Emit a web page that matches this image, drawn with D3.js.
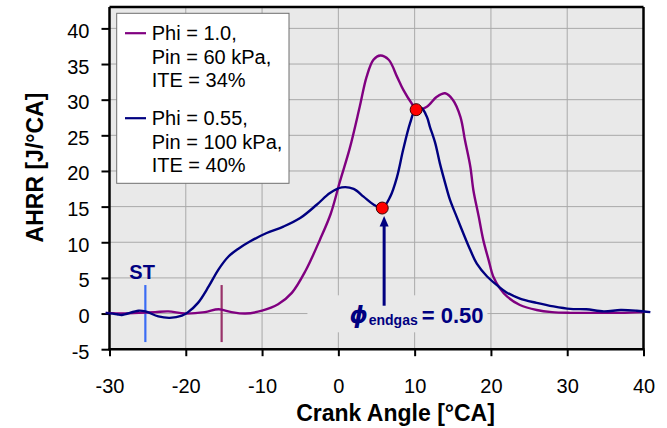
<!DOCTYPE html>
<html>
<head>
<meta charset="utf-8">
<script src="https://cdn.jsdelivr.net/npm/d3@7/dist/d3.min.js"></script>
<style>
  html, body { margin: 0; padding: 0; background: #fff; }
  svg { display: block; font-family: "Liberation Sans", Arial, sans-serif; }
</style>
</head>
<body>
<svg id="chart" width="667" height="428"></svg>
<script>
// Apparent heat release rate vs crank angle, two operating points
const crankRich = [-30.5, -28, -26.2, -24, -22.3, -20.1, -17.5, -15.7, -14.0, -12.2, -10.0, -7.9, -6.1, -4.3,
  -2.4, -1.0, 0.2, 1.5, 2.8, 3.7, 4.6, 5.5, 6.6, 7.7, 8.5, 9.6, 10.3, 11.6, 12.9, 14.0, 15.0, 16.0,
  16.6, 17.3, 17.7, 18.4, 19.0, 19.7, 20.3, 21.2, 22.1, 23.8, 26.0, 28.0, 30.4, 35.0, 37.0, 40.0];
const ahrrRich = [0.1, 0.0, 0.1, 0.2, 0.3, 0.0, 0.2, 0.6, 0.2, 0.0, 0.4, 1.3, 2.9, 6.0,
  10.4, 14.0, 18.5, 23.2, 29.0, 33.2, 35.6, 36.2, 35.6, 33.2, 31.4, 29.5, 28.6, 29.0, 30.4, 30.9, 30.0, 27.6,
  24.3, 20.6, 17.3, 13.6, 10.3, 7.5, 5.2, 3.5, 2.4, 1.2, 0.5, 0.2, 0.1, 0.1, 0.1, 0.2];

const crankLean = [-30.5, -29.0, -28.4, -26.2, -25.3, -23.6, -22.1, -20.5, -19.7, -18.4, -17.0, -15.7, -14.4,
  -13.1, -11.6, -9.4, -7.2, -5.0, -2.8, -1.1, 0.45, 2.0, 3.3, 4.6, 5.75, 6.8, 7.7, 8.5, 9.4, 10.1, 10.9, 11.6,
  12.0, 12.7, 13.3, 14.0, 14.65, 15.5, 16.4, 17.3, 18.15, 19.5, 21.0, 22.0, 23.8, 26.0, 28.2, 30.4, 32.5, 34.8,
  37.0, 39.1, 40.9];
const ahrrLean = [0.1, -0.1, -0.2, 0.4, 0.3, -0.4, -0.6, -0.3, 0.2, 1.5, 3.8, 6.2, 8.0,
  9.1, 10.1, 11.3, 12.2, 13.4, 15.3, 16.9, 17.7, 17.5, 16.4, 15.3, 14.8, 16.4, 19.2, 23.0, 26.7, 28.6, 28.8, 27.6,
  26.2, 23.9, 21.1, 18.3, 15.9, 13.6, 11.2, 8.9, 7.0, 5.2, 3.8, 3.0, 2.1, 1.5, 1.0, 0.65, 0.6, 0.3,
  0.5, 0.4, 0.2];

// Highlighted points: end-gas autoignition onset and the crossing of the two curves
const markerAngles = [5.75, 10.2];
const markerValues = [14.8, 28.6];

const xTicks = [-30, -20, -10, 0, 10, 20, 30, 40];
const yTicks = [-5, 0, 5, 10, 15, 20, 25, 30, 35, 40];

const legendLabels = [
  ["Phi = 1.0,", "Pin = 60 kPa,", "ITE = 34%"],
  ["Phi = 0.55,", "Pin = 100 kPa,", "ITE = 40%"]
];

const colRich = "#800080";
const colLean = "#000080";

const svg = d3.select("#chart");
svg.append("rect").attr("width", 667).attr("height", 428).attr("fill", "#fff");

const x = d3.scaleLinear().domain([-30, 40]).range([109.5, 643.5]);
const y = d3.scaleLinear().domain([-5, 43]).range([349.2, 7]);

// plot area
svg.append("rect")
  .attr("x", x(-30)).attr("y", y(43))
  .attr("width", x(40) - x(-30)).attr("height", y(-5) - y(43))
  .attr("fill", "#e9e9e9");

// grid
const grid = svg.append("g").attr("stroke", "#a9a9a9").attr("stroke-width", 1);
grid.selectAll(".gv").data(xTicks.filter(t => t > -30 && t < 40)).join("line")
  .attr("x1", d => x(d)).attr("x2", d => x(d))
  .attr("y1", y(43)).attr("y2", y(-5));
grid.selectAll(".gh").data(yTicks.filter(t => t > -5)).join("line")
  .attr("x1", x(-30)).attr("x2", x(40))
  .attr("y1", d => y(d)).attr("y2", d => y(d));

// label backing that masks the grid behind the phi annotation
const labAngle = 1.45, labVal = -1.37;
svg.append("rect")
  .attr("x", x(labAngle) - 42).attr("y", y(labVal) - 28)
  .attr("width", 180).attr("height", 37)
  .attr("fill", "#e9e9e9");

// frame top/right
svg.append("line").attr("x1", x(-30)).attr("x2", x(40)).attr("y1", y(43)).attr("y2", y(43))
  .attr("stroke", "#000").attr("stroke-width", 2.5);
svg.append("line").attr("x1", x(40)).attr("x2", x(40)).attr("y1", y(43)).attr("y2", y(-5))
  .attr("stroke", "#000").attr("stroke-width", 2.5);

// axes
const fmt = d => String(d);
const xAxis = svg.append("g").attr("transform", `translate(0,${y(-5)})`)
  .call(d3.axisBottom(x).tickValues(xTicks).tickFormat(fmt).tickSize(7).tickPadding(23).tickSizeOuter(0));
const yAxis = svg.append("g").attr("transform", `translate(${x(-30)},0)`)
  .call(d3.axisLeft(y).tickValues(yTicks).tickFormat(fmt).tickSize(8).tickPadding(12).tickSizeOuter(0));
[xAxis, yAxis].forEach(g => {
  g.select(".domain").attr("stroke", "#000").attr("stroke-width", 2.5);
  g.selectAll(".tick line").attr("stroke", "#000").attr("stroke-width", 2);
  g.selectAll("text").attr("font-family", "Liberation Sans, Arial, sans-serif")
    .attr("font-size", 20).attr("fill", "#000");
});
yAxis.selectAll(".tick text").attr("dy", "0.45em");
xAxis.selectAll(".tick text").attr("dy", "0.71em");
// axis lines run the full frame
xAxis.select(".domain").attr("d", `M${x(-30) - 1},0H${x(40) + 1}`);
yAxis.select(".domain").attr("d", `M0,${y(-5) + 1}V${y(43)}`);

// axis titles
svg.append("text").attr("x", 395.5).attr("y", 420.5).attr("text-anchor", "middle")
  .attr("font-size", 23).attr("font-weight", "bold").text("Crank Angle [°CA]");
svg.append("text").attr("transform", "translate(43,167.5) rotate(-90)").attr("text-anchor", "middle")
  .attr("font-size", 23).attr("font-weight", "bold").text("AHRR [J/°CA]");

// start-of-injection marks
const markSeg = [-4, 4];
svg.append("line").attr("x1", x(-25.3)).attr("x2", x(-25.3)).attr("y1", y(markSeg[0])).attr("y2", y(markSeg[1]))
  .attr("stroke", "#3a6cf4").attr("stroke-width", 2.2);
svg.append("line").attr("x1", x(-15.3)).attr("x2", x(-15.3)).attr("y1", y(markSeg[0])).attr("y2", y(markSeg[1]))
  .attr("stroke", "#99336a").attr("stroke-width", 2.2);
svg.append("text").attr("x", x(-27.4)).attr("y", y(4.8))
  .attr("font-size", 20).attr("font-weight", "bold").attr("fill", colLean).text("ST");

// curves
const line = d3.line().x(d => x(d[0])).y(d => y(d[1])).curve(d3.curveCatmullRom.alpha(0.5));
svg.append("path").datum(d3.zip(crankRich, ahrrRich)).attr("d", line)
  .attr("fill", "none").attr("stroke", colRich).attr("stroke-width", 2.4).attr("stroke-linejoin", "round");
svg.append("path").datum(d3.zip(crankLean, ahrrLean)).attr("d", line)
  .attr("fill", "none").attr("stroke", colLean).attr("stroke-width", 2.4).attr("stroke-linejoin", "round");

// arrow to the end-gas ignition point
const arrowX = 6.0;
svg.append("line").attr("x1", x(arrowX)).attr("x2", x(arrowX))
  .attr("y1", y(1.1)).attr("y2", y(12.6))
  .attr("stroke", colLean).attr("stroke-width", 3);
svg.append("path")
  .attr("d", `M${x(arrowX) - 4.5},${y(12.2)}L${x(arrowX)},${y(13.7)}L${x(arrowX) + 4.5},${y(12.2)}Z`)
  .attr("fill", colLean);

// markers
svg.selectAll(".dot").data(d3.zip(markerAngles, markerValues)).join("circle")
  .attr("cx", d => x(d[0])).attr("cy", d => y(d[1])).attr("r", 6)
  .attr("fill", "#ff0000").attr("stroke", "#3a0000").attr("stroke-width", 1);

// phi_endgas label
const lab = svg.append("text").attr("x", x(labAngle)).attr("y", y(labVal))
  .attr("fill", colLean).attr("font-weight", "bold");
lab.append("tspan").attr("font-family", "DejaVu Sans, sans-serif").attr("font-style", "italic")
  .attr("font-size", 23).text("ϕ");
lab.append("tspan").attr("font-size", 14).attr("dx", 1).attr("dy", 2).text("endgas");
lab.append("tspan").attr("font-size", 22).attr("dx", 4).attr("dy", -2).text("= 0.50");

// legend
const leg = svg.append("g");
leg.append("rect").attr("x", 116.7).attr("y", 13.3).attr("width", 172.3).attr("height", 170)
  .attr("fill", "#fff").attr("stroke", "#6e6e6e").attr("stroke-width", 1);
const legColors = [colRich, colLean];
const legTop = [40, 125];
legendLabels.forEach((lines, i) => {
  leg.append("line").attr("x1", 125).attr("x2", 146).attr("y1", legTop[i] - 6.8).attr("y2", legTop[i] - 6.8)
    .attr("stroke", legColors[i]).attr("stroke-width", 2.2);
  lines.forEach((t, j) => {
    leg.append("text").attr("x", 151.7).attr("y", legTop[i] + j * 23.7)
      .attr("font-size", 20).attr("fill", "#000").text(t);
  });
});
</script>
</body>
</html>
